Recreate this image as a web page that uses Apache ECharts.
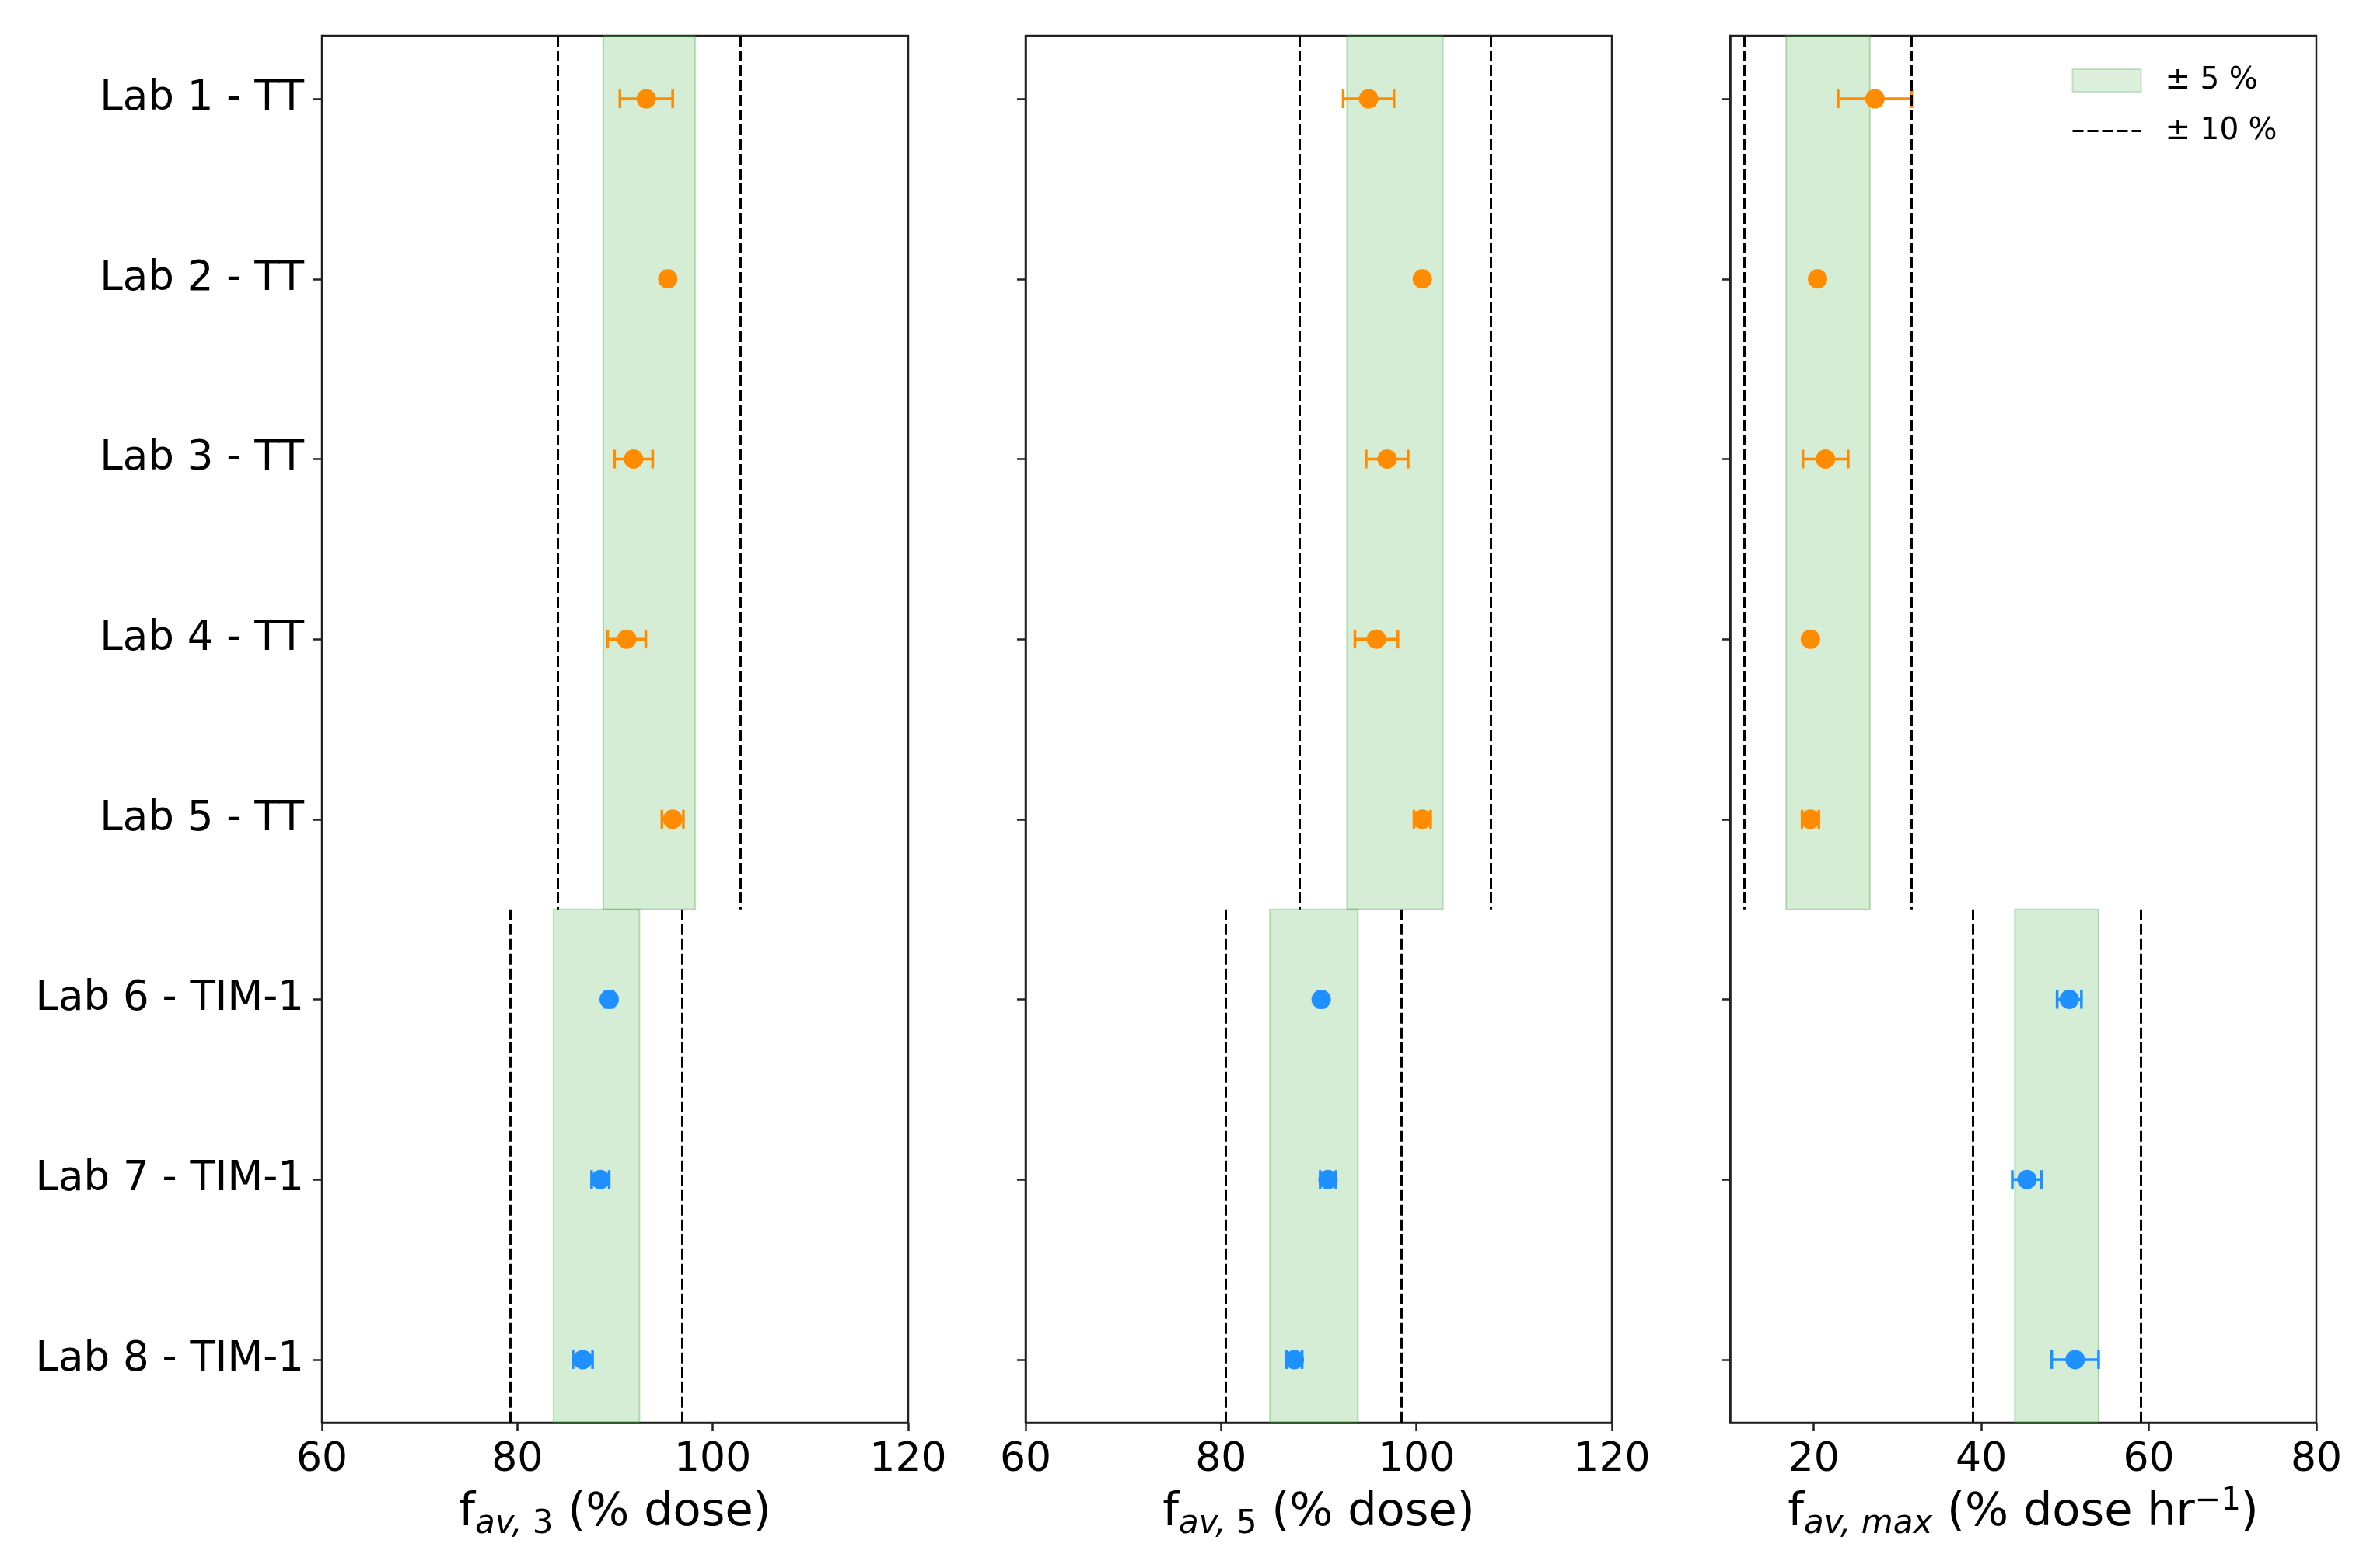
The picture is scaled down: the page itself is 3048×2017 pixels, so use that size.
<!DOCTYPE html>
<html>
<head>
<meta charset="utf-8">
<script src="https://cdn.jsdelivr.net/npm/echarts@6/dist/echarts.min.js"></script>
<style>
html, body { margin: 0; padding: 0; background: #fff; }
#chart { width: 3048px; height: 2017px; }
</style>
</head>
<body>
<div id="chart"></div>
<script>
// labs, top to bottom
var labs = ['Lab 1 - TT', 'Lab 2 - TT', 'Lab 3 - TT', 'Lab 4 - TT', 'Lab 5 - TT',
            'Lab 6 - TIM-1', 'Lab 7 - TIM-1', 'Lab 8 - TIM-1'];
var device = ['TT', 'TT', 'TT', 'TT', 'TT', 'TIM-1', 'TIM-1', 'TIM-1'];

// f_av,3
var fav3 = [93.2, 95.4, 91.9, 91.2, 95.9, 89.4, 88.5, 86.7];
var fav3Err = [2.7, 0.3, 1.95, 1.95, 1.1, 0.4, 0.9, 1.0];
// f_av,5
var fav5 = [95.1, 100.6, 97.0, 95.9, 100.6, 90.25, 90.95, 87.5];
var fav5Err = [2.6, 0.3, 2.15, 2.2, 0.85, 0.3, 0.8, 0.8];
// f_av,max
var favMax = [27.3, 20.45, 21.4, 19.6, 19.6, 50.5, 45.45, 51.2];
var favMaxErr = [4.4, 0.3, 2.7, 0.3, 1.0, 1.45, 1.75, 2.8];

// acceptance ranges per panel [lo, hi]
var band5TT = [[88.8, 98.2], [92.9, 102.7], [16.7, 26.7]];
var band10TT = [[84.1, 102.8], [88.0, 107.6], [11.7, 31.7]];
var band5TIM = [[83.7, 92.5], [85.0, 94.0], [44.0, 54.0]];
var band10TIM = [[79.3, 96.9], [80.5, 98.45], [39.0, 59.0]];

// x axis ranges and ticks
var xMin = [60, 60, 10];
var xMax = [120, 120, 80];
var xTicks = [[60, 80, 100, 120], [60, 80, 100, 120], [20, 40, 60, 80]];

var colors = { 'TT': '#ff8c00', 'TIM-1': '#1e90ff' };
var font = 'DejaVu Sans';
var yTop = -0.35, yBottom = 7.35, ySplit = 4.5;
var labIdx = labs.map(function (l, i) { return i; });

var chart = echarts.init(document.getElementById('chart'));

var gridLefts = [414, 1319, 2225];
var grids = gridLefts.map(function (l) {
    return { left: l, width: 754, top: 46, height: 1784, show: true,
             borderColor: '#222', borderWidth: 2.5, backgroundColor: 'transparent' };
});

var axisNames = [
    '{f|f}{s|av,}{n| 3}{t| (% dose)}',
    '{f|f}{s|av,}{n| 5}{t| (% dose)}',
    '{f|f}{s|av, max}{t| (% dose hr}{sup|\u22121}{t|)}'
];
var nameRich = {
    f: { fontSize: 59, lineHeight: 70, fontFamily: font, color: '#000' },
    t: { fontSize: 59, lineHeight: 70, fontFamily: font, color: '#000' },
    s: { fontSize: 42, lineHeight: 44, fontStyle: 'italic', verticalAlign: 'bottom', fontFamily: font, color: '#000' },
    n: { fontSize: 42, lineHeight: 44, verticalAlign: 'bottom', fontFamily: font, color: '#000' },
    sup: { fontSize: 40, lineHeight: 30, verticalAlign: 'top', fontFamily: font, color: '#000' }
};

var xAxes = [0, 1, 2].map(function (i) {
    return {
        gridIndex: i, type: 'value', min: xMin[i], max: xMax[i],
        name: axisNames[i], nameLocation: 'middle', nameGap: 82,
        nameTextStyle: { rich: nameRich },
        axisLine: { show: true, onZero: false, lineStyle: { color: '#222', width: 2.5 } },
        axisTick: { show: true, customValues: xTicks[i], length: 11, lineStyle: { color: '#222', width: 2.5 } },
        axisLabel: { customValues: xTicks[i], fontSize: 52, color: '#000', fontFamily: font, margin: 22 },
        splitLine: { show: false }
    };
});

var yAxes = [0, 1, 2].map(function (i) {
    return {
        gridIndex: i, type: 'value', min: yTop, max: yBottom, inverse: true,
        axisLine: { show: true, onZero: false, lineStyle: { color: '#222', width: 2.5 } },
        axisTick: { show: true, customValues: labIdx, length: 11, lineStyle: { color: '#222', width: 2.5 } },
        axisLabel: { show: i === 0, customValues: labIdx, fontSize: 53, color: '#000', fontFamily: font, margin: 23,
                     formatter: function (v) { return labs[Math.round(v)]; } },
        splitLine: { show: false }
    };
});

function errorBar(params, api) {
    var x = api.value(0), y = api.value(1), e = api.value(2);
    var lo = api.coord([x - e, y]);
    var hi = api.coord([x + e, y]);
    var cap = 12;
    var st = { stroke: api.visual('color'), lineWidth: 3.5 };
    return { type: 'group', children: [
        { type: 'line', shape: { x1: lo[0], y1: lo[1], x2: hi[0], y2: hi[1] }, style: st },
        { type: 'line', shape: { x1: lo[0], y1: lo[1] - cap, x2: lo[0], y2: lo[1] + cap }, style: st },
        { type: 'line', shape: { x1: hi[0], y1: hi[1] - cap, x2: hi[0], y2: hi[1] + cap }, style: st }
    ]};
}

var values = [fav3, fav5, favMax];
var errors = [fav3Err, fav5Err, favMaxErr];
var bandFill = 'rgba(44,160,44,0.2)';
var bandEdge = 'rgba(44,160,44,0.3)';
var dash = { type: [14, 5], color: '#000', width: 3 };

var series = [];
[0, 1, 2].forEach(function (i) {
    series.push({
        name: '\u00b1 5 %', type: 'scatter', xAxisIndex: i, yAxisIndex: i, data: [], z: 1,
        itemStyle: { color: bandFill, borderColor: bandEdge, borderWidth: 2 },
        markArea: {
            silent: true,
            itemStyle: { color: bandFill, borderColor: bandEdge, borderWidth: 2 },
            data: [
                [{ coord: [band5TT[i][0], yTop] }, { coord: [band5TT[i][1], ySplit] }],
                [{ coord: [band5TIM[i][0], ySplit] }, { coord: [band5TIM[i][1], yBottom] }]
            ]
        }
    });
    series.push({
        name: '\u00b1 10 %', type: 'line', xAxisIndex: i, yAxisIndex: i, data: [], z: 2,
        symbol: 'none', lineStyle: dash, itemStyle: { color: '#000' },
        markLine: {
            silent: true, symbol: ['none', 'none'], label: { show: false },
            lineStyle: dash,
            data: [
                [{ coord: [band10TT[i][0], yTop] }, { coord: [band10TT[i][0], ySplit] }],
                [{ coord: [band10TT[i][1], yTop] }, { coord: [band10TT[i][1], ySplit] }],
                [{ coord: [band10TIM[i][0], ySplit] }, { coord: [band10TIM[i][0], yBottom] }],
                [{ coord: [band10TIM[i][1], ySplit] }, { coord: [band10TIM[i][1], yBottom] }]
            ]
        }
    });
    series.push({
        type: 'custom', xAxisIndex: i, yAxisIndex: i, z: 3,
        renderItem: errorBar, encode: { x: 0, y: 1 },
        data: labs.map(function (l, k) {
            return { value: [values[i][k], k, errors[i][k]], itemStyle: { color: colors[device[k]] } };
        })
    });
    series.push({
        type: 'scatter', xAxisIndex: i, yAxisIndex: i, z: 4, symbolSize: 25,
        data: labs.map(function (l, k) {
            return { value: [values[i][k], k], itemStyle: { color: colors[device[k]], opacity: 1 } };
        })
    });
});

chart.setOption({
    animation: false,
    backgroundColor: '#fff',
    grid: grids,
    xAxis: xAxes,
    yAxis: yAxes,
    legend: {
        data: [
            { name: '\u00b1 5 %', icon: 'rect' },
            { name: '\u00b1 10 %', itemStyle: { color: 'transparent', borderColor: 'transparent', opacity: 0 },
              lineStyle: { type: [14, 5], color: '#000', width: 3 } }
        ],
        orient: 'vertical', left: 2664, top: 84, padding: 0,
        itemWidth: 88, itemHeight: 29, itemGap: 26,
        selectedMode: false,
        textStyle: { fontSize: 39, color: '#000', fontFamily: font, padding: [0, 0, 0, 26] }
    },
    series: series
});
</script>
</body>
</html>
